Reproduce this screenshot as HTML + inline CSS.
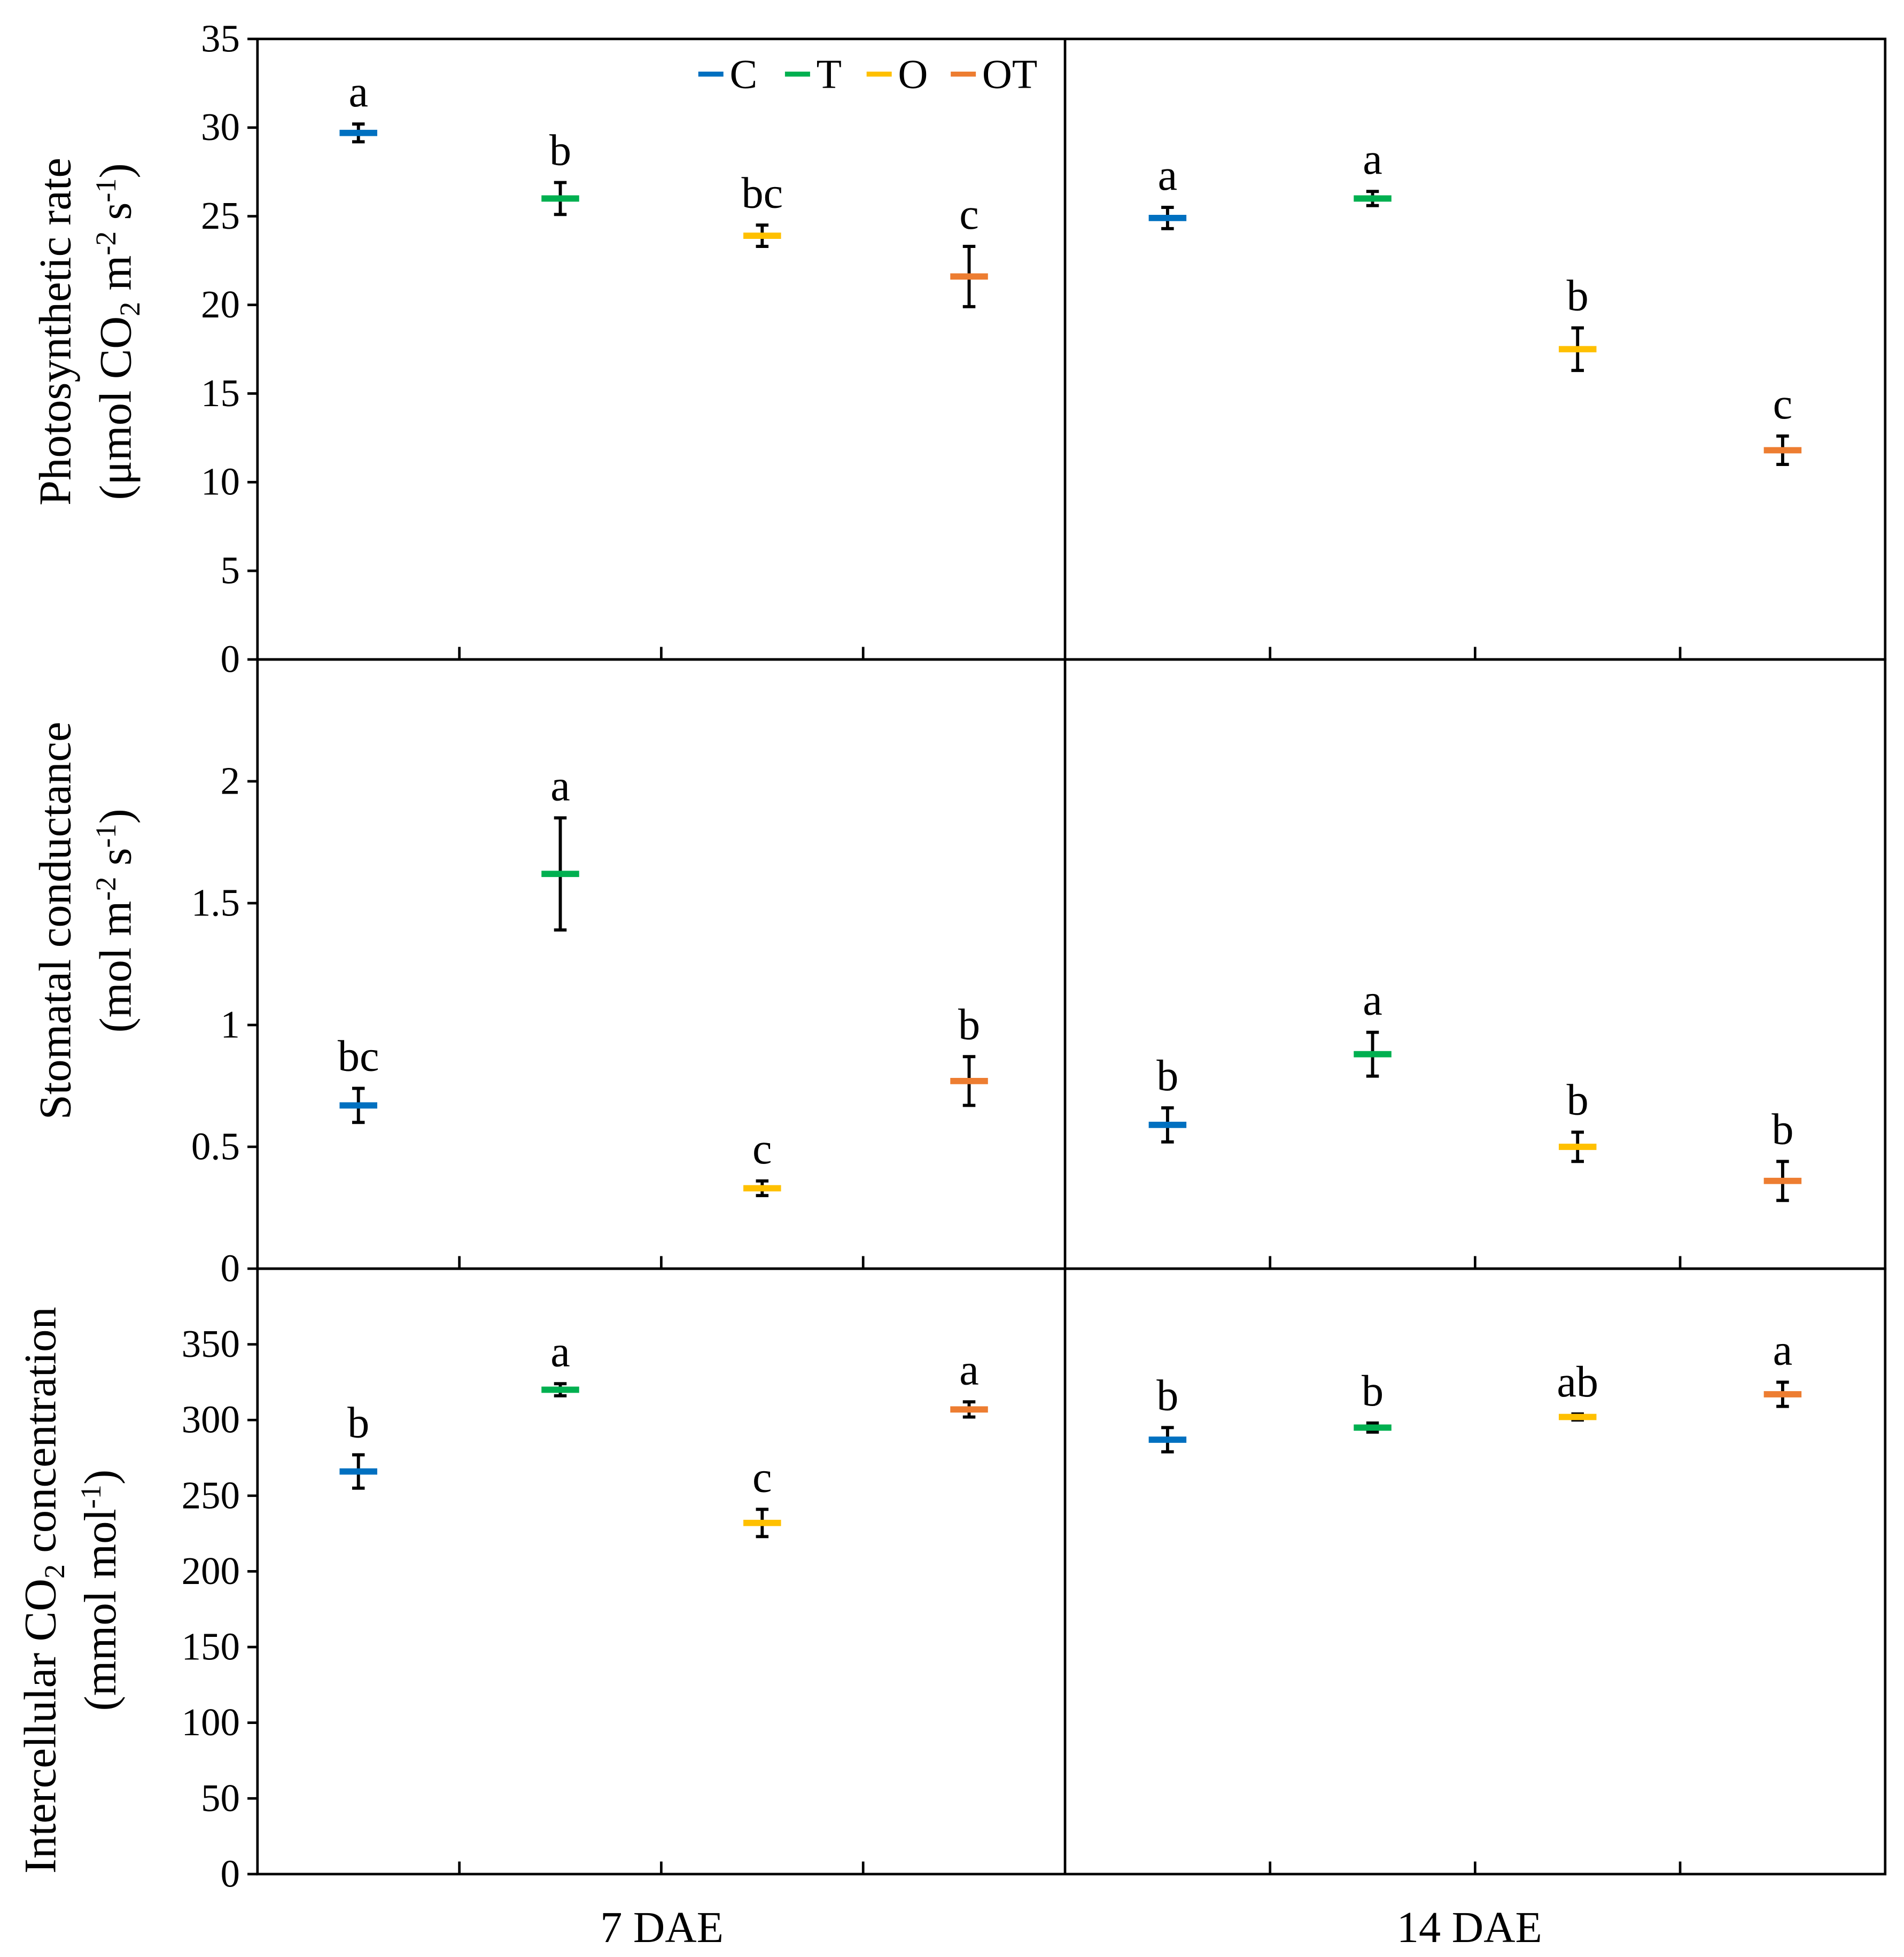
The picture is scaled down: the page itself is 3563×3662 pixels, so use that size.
<!DOCTYPE html>
<html><head><meta charset="utf-8"><style>
html,body{margin:0;padding:0;background:#fff}
svg{display:block}
text{font-family:"Liberation Serif",serif;fill:#000}
</style></head><body>
<svg id="chart" width="3563" height="3662" viewBox="0 0 1516 1558" preserveAspectRatio="none" xmlns="http://www.w3.org/2000/svg">
<g id="frame"></g>
<g id="marks"></g>
<g id="legend"></g>
<g id="labels">
<text transform="translate(56,264) rotate(-90)" text-anchor="middle" font-size="36">Photosynthetic rate</text>
<text transform="translate(104,264) rotate(-90)" text-anchor="middle" font-size="36">(μmol CO<tspan font-size="23" dy="7">2</tspan><tspan dy="-7"> m</tspan><tspan font-size="23" dy="-12">-2</tspan><tspan dy="12"> s</tspan><tspan font-size="23" dy="-12">-1</tspan><tspan dy="12">)</tspan></text>
<text transform="translate(56,733) rotate(-90)" text-anchor="middle" font-size="36">Stomatal conductance</text>
<text transform="translate(104,733) rotate(-90)" text-anchor="middle" font-size="36">(mol m<tspan font-size="23" dy="-12">-2</tspan><tspan dy="12"> s</tspan><tspan font-size="23" dy="-12">-1</tspan><tspan dy="12">)</tspan></text>
<text transform="translate(44,1266) rotate(-90)" text-anchor="middle" font-size="36">Intercellular CO<tspan font-size="23" dy="7">2</tspan><tspan dy="-7"> concentration</tspan></text>
<text transform="translate(92,1266) rotate(-90)" text-anchor="middle" font-size="36">(mmol mol<tspan font-size="23" dy="-12">-1</tspan><tspan dy="12">)</tspan></text>
<text x="527" y="1546" text-anchor="middle" font-size="35">7 DAE</text>
<text x="1170" y="1546" text-anchor="middle" font-size="35">14 DAE</text>
</g>
</svg>
<script>
const treatments = ['C','T','O','OT'];
const colors = ['#0070C0','#00B050','#FFC000','#ED7D31'];
const days = ['7 DAE','14 DAE'];
// Photosynthetic rate
const pnMean7 = [29.7, 26.0, 23.9, 21.6];
const pnErr7 = [0.5, 0.9, 0.6, 1.7];
const pnMean14 = [24.9, 26.0, 17.5, 11.8];
const pnErr14 = [0.6, 0.4, 1.2, 0.8];
const pnLetters7 = ['a','b','bc','c'];
const pnLetters14 = ['a','a','b','c'];
const pnTicks = [0,5,10,15,20,25,30,35];
// Stomatal conductance
const gsMean7 = [0.67, 1.62, 0.33, 0.77];
const gsErr7 = [0.07, 0.23, 0.03, 0.10];
const gsMean14 = [0.59, 0.88, 0.50, 0.36];
const gsErr14 = [0.07, 0.09, 0.06, 0.08];
const gsLetters7 = ['bc','a','c','b'];
const gsLetters14 = ['b','a','b','b'];
const gsTicks = [0,0.5,1,1.5,2];
const gsTickLabels = ['0','0.5','1','1.5','2'];
// Intercellular CO2
const ciMean7 = [266, 320, 232, 307];
const ciErr7 = [11, 4, 9, 5];
const ciMean14 = [287, 295, 302, 317];
const ciErr14 = [8, 3, 2, 8];
const ciLetters7 = ['b','a','c','a'];
const ciLetters14 = ['b','b','ab','a'];
const ciTicks = [0,50,100,150,200,250,300,350];

const NS='http://www.w3.org/2000/svg';
const L=205, R=1501, MID=848;
function mk(tag, attrs, parent){const e=document.createElementNS(NS,tag);for(const k in attrs)e.setAttribute(k,attrs[k]);parent.appendChild(e);return e;}
const frame=document.getElementById('frame'), marks=document.getElementById('marks');
const panels=[
 {name:'photosynthesis',top:31,bot:525,max:35,ticks:pnTicks,tl:pnTicks.map(String),m:[pnMean7,pnMean14],e:[pnErr7,pnErr14],l:[pnLetters7,pnLetters14]},
 {name:'stomatal',top:525,bot:1010,max:2.5,ticks:gsTicks,tl:gsTickLabels,m:[gsMean7,gsMean14],e:[gsErr7,gsErr14],l:[gsLetters7,gsLetters14]},
 {name:'intercellular',top:1010,bot:1492,max:400,ticks:ciTicks,tl:ciTicks.map(String),m:[ciMean7,ciMean14],e:[ciErr7,ciErr14],l:[ciLetters7,ciLetters14]}
];
const groupW=(MID-L)/4, groupW2=(R-MID)/4;
function xPos(d,i){return d===0? L+groupW*(i+0.5)+(i===3?4:0) : MID+groupW2*(i+0.5);}
panels.forEach(p=>{
 const y=v=>p.bot-(v/p.max)*(p.bot-p.top);
 const r=mk('rect',{x:L,y:p.top,width:R-L,height:p.bot-p.top,fill:'none',stroke:'#000','stroke-width':2},frame);
 
 
 const dv=mk('line',{x1:MID,x2:MID,y1:p.top,y2:p.bot,stroke:'#000','stroke-width':2},frame);
 
 
 for(let k=1;k<4;k++){[L+groupW*k, MID+groupW2*k].forEach(x=>{
   const t=mk('line',{x1:x,x2:x,y1:p.bot,y2:p.bot-10,stroke:'#000','stroke-width':2},frame);
   
   
 });}
 p.ticks.forEach((v,i)=>{
   const yy=y(v);
   const t=mk('line',{x1:L-8,x2:L,y1:yy,y2:yy,stroke:'#000','stroke-width':2},frame);
   
   
   const tx=mk('text',{x:L-14,y:yy+10,'text-anchor':'end','font-size':31},frame);
   tx.textContent=p.tl[i];
   
   
 });
 for(let d=0;d<2;d++){for(let i=0;i<4;i++){
   const x=xPos(d,i), m=p.m[d][i], e=p.e[d][i];
   const g=mk('g',{},marks);
   
   
   mk('line',{x1:x,x2:x,y1:y(m+e),y2:y(m-e),stroke:'#000','stroke-width':2.5},g);
   mk('line',{x1:x-5,x2:x+5,y1:y(m+e),y2:y(m+e),stroke:'#000','stroke-width':2.5},g);
   mk('line',{x1:x-5,x2:x+5,y1:y(m-e),y2:y(m-e),stroke:'#000','stroke-width':2.5},g);
   mk('line',{x1:x-15,x2:x+15,y1:y(m),y2:y(m),stroke:colors[i],'stroke-width':5},g);
   const lt=mk('text',{x:x,y:y(m+e)-14,'text-anchor':'middle','font-size':35},g);
   lt.textContent=p.l[d][i];
   
   
 }}
});
const leg=document.getElementById('legend');
const legX=[556,625,690,757];
treatments.forEach((t,i)=>{
 const g=mk('g',{},leg);
 
 
 mk('line',{x1:legX[i],x2:legX[i]+20,y1:59,y2:59,stroke:colors[i],'stroke-width':4},g);
 const tx=mk('text',{x:legX[i]+25,y:70,'font-size':33},g);
 tx.textContent=t;
});
</script>
</body></html>
